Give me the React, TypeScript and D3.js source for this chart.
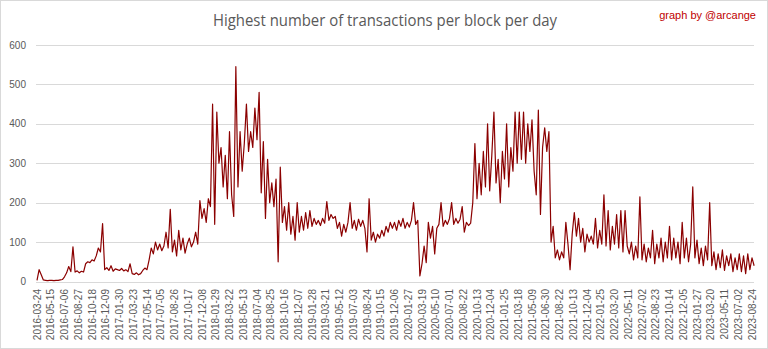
import React from 'react';
import * as d3 from 'd3';

// Category tick labels (every 52 daily points)
const tickLabels: string[] = [
  '2016-03-24','2016-05-15','2016-07-06','2016-08-27','2016-10-18','2016-12-09',
  '2017-01-30','2017-03-23','2017-05-14','2017-07-05','2017-08-26','2017-10-17','2017-12-08',
  '2018-01-29','2018-03-22','2018-05-13','2018-07-04','2018-08-25','2018-10-16','2018-12-07',
  '2019-01-28','2019-03-21','2019-05-12','2019-07-03','2019-08-24','2019-10-15','2019-12-06',
  '2020-01-27','2020-03-19','2020-05-10','2020-07-01','2020-08-22','2020-10-13','2020-12-04',
  '2021-01-25','2021-03-18','2021-05-09','2021-06-30','2021-08-22','2021-10-13','2021-12-04',
  '2022-01-25','2022-03-20','2022-05-11','2022-07-02','2022-08-23','2022-10-14','2022-12-05',
  '2023-01-27','2023-03-20','2023-05-11','2023-07-02','2023-08-24'
];
const TICK_EVERY = 52; // points between labels
const STEP = 8; // points between sampled values below

// Highest number of transactions per block, sampled every 8 days
const vals2016: number[] = [
  3, 30, 17, 4, 3, 2, 3, 3, 2, 3, 3, 4, 5,
  12, 22, 38, 25, 88, 24, 27, 22, 26, 24,
  45, 50, 48, 55, 52, 65, 85, 75, 147, 30,
  35, 28, 40, 26, 32
];
const vals2017: number[] = [
  30, 28, 33, 27, 30, 25, 45, 20, 18, 22, 17, 20,
  28, 34, 30, 55, 85, 70, 100, 80, 95, 78, 90, 125,
  85, 183, 75, 105, 65, 130, 80, 110, 72, 95,
  110, 88, 100, 125, 95
];
const vals2018: number[] = [
  205, 160, 185, 150, 210, 190, 450, 145, 430, 300, 340, 240, 320, 210, 380,
  220, 165, 545, 240, 380, 280, 350, 450, 330, 380, 340, 440, 360, 480, 225
];
const vals2019: number[] = [
  355, 160, 310, 200, 250, 190, 260, 50, 290, 150,
  190, 130, 200, 120, 165, 105, 200, 125, 165, 130,
  175, 135, 180, 140, 160, 145, 155, 142, 160, 148,
  203, 155, 170, 160, 165, 135, 150, 115, 145, 125,
  150, 200, 135, 155, 130, 158, 140, 155, 135, 75,
  210, 105, 125, 100, 120, 110, 130, 115, 140, 125, 150
];
const vals2020: number[] = [
  135, 150, 130, 155, 140, 160, 135, 150, 138, 155,
  200, 145, 155, 14, 45, 90, 48, 150, 110, 140,
  70, 135, 145, 200, 140, 155, 145, 160, 200, 145,
  160, 148, 158, 190, 125, 150, 142, 148, 200, 350,
  210, 300, 220, 330, 240, 400, 230, 320, 430, 250,
  310, 200, 330, 260, 400, 240, 340, 280, 430, 300,
  430, 310, 430, 300, 400, 330, 410, 280, 220, 435,
  170, 340, 390, 330, 380, 100, 140, 60, 80
];
const vals2022: number[] = [
  55, 75, 60, 150, 95, 30, 120, 175, 115, 160,
  100, 135, 75, 120, 100, 115, 95, 160, 85, 130,
  95, 220, 90, 180, 80, 140, 95, 170, 85, 180,
  75, 180, 90, 70, 100, 55, 90, 60, 215, 55,
  95, 50, 85, 60, 130, 45, 95, 60, 110, 50,
  100, 60, 140, 55, 110, 60, 100, 45, 150, 60,
  110, 50, 95, 240, 60, 105, 45, 85, 40, 90,
  55, 200, 40, 75, 30, 70, 35, 80, 28, 65,
  40, 70, 25, 60, 30, 70, 25, 65, 20, 70,
  30, 60, 40
];
const series: number[] = [...vals2016, ...vals2017, ...vals2018, ...vals2019, ...vals2020, ...vals2022];
const yTicks: number[] = [0, 100, 200, 300, 400, 500, 600];

export default function App() {
  const W = 768, H = 349;
  const x = d3.scaleLinear().domain([0, TICK_EVERY * (tickLabels.length - 1)]).range([37, 752]);
  const y = d3.scaleLinear().domain([0, 600]).range([281.5, 45]);
  const line = d3.line<number>().x((_, i) => x(i * STEP)).y(d => y(d));
  const font = "'Liberation Sans', Arial, sans-serif";
  return (
    <svg width={W} height={H} style={{ position: 'absolute', left: 0, top: 0, background: '#fff' }}>
      <rect x={0.5} y={0.5} width={W - 1} height={H - 1} fill="#fff" stroke="#d9d9d9" />
      <text x={385} y={26} textAnchor="middle" fontFamily="'Open Sans', sans-serif" fontSize={17}
        fill="#595959" textLength={344} lengthAdjust="spacingAndGlyphs">
        Highest number of transactions per block per day
      </text>
      <text x={756} y={19} textAnchor="end" fontFamily={font} fontSize={11}
        fill="#c00000">graph by @arcange</text>
      {yTicks.map(t => (
        <g key={t}>
          <line x1={36} x2={754} y1={Math.round(y(t)) + 0.5} y2={Math.round(y(t)) + 0.5} stroke="#d9d9d9" strokeWidth={1} />
          <text x={26} y={y(t)} dy="0.35em" textAnchor="end" fontFamily={font} fontSize={10} fill="#595959">{t}</text>
        </g>
      ))}
      <path d={line(series) || ''} fill="none" stroke="#8b0000" strokeWidth={1.2} strokeLinejoin="round" />
      {tickLabels.map((lab, i) => {
        const px = x(i * TICK_EVERY);
        return (
          <text key={lab} transform={`translate(${px + 3.5},289) rotate(-90)`} textAnchor="end"
            fontFamily={font} fontSize={10} fill="#595959">{lab}</text>
        );
      })}
    </svg>
  );
}
